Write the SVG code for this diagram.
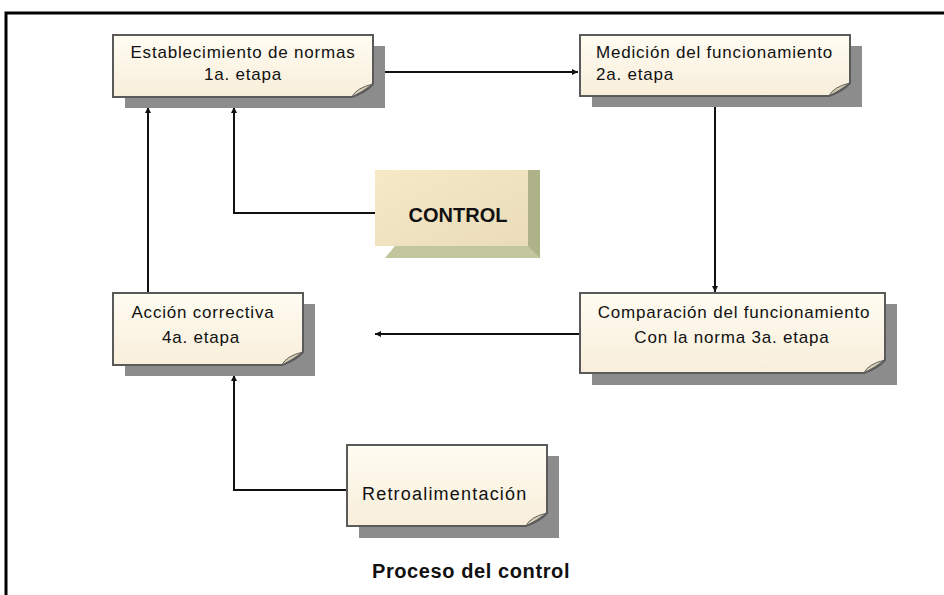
<svg xmlns="http://www.w3.org/2000/svg" width="944" height="595" viewBox="0 0 944 595">
<defs>
<linearGradient id="paper" x1="0" y1="0" x2="0" y2="1">
<stop offset="0" stop-color="#FFFCF2"/>
<stop offset="1" stop-color="#F8EEDA"/>
</linearGradient>
<linearGradient id="face" x1="0" y1="0" x2="1" y2="1">
<stop offset="0" stop-color="#F6E9C8"/>
<stop offset="1" stop-color="#EADCB9"/>
</linearGradient>
<marker id="arr" viewBox="0 0 10 10" refX="10" refY="5" markerWidth="6" markerHeight="6" orient="auto" markerUnits="userSpaceOnUse">
<path d="M0,0 L10,5 L0,10 Z" fill="#111"/>
</marker>
</defs>
<style>
.sh{fill:#8c8c8c}
.bx{fill:url(#paper);stroke:#5a5a5a;stroke-width:2}
.curl{fill:#d9cfb4;stroke:#5a5a5a;stroke-width:1}
.t{font-family:"Liberation Sans",Arial,sans-serif;font-size:17px;letter-spacing:0.8px;fill:#111}
.c{stroke:#111;stroke-width:2;fill:none}
</style>
<rect width="944" height="595" fill="#fff"/>
<path d="M6,595 V13 H944" fill="none" stroke="#000" stroke-width="3"/>

<g id="connectors">
<line class="c" x1="373" y1="72" x2="578" y2="72" marker-end="url(#arr)"/>
<line class="c" x1="715" y1="107" x2="715" y2="292" marker-end="url(#arr)"/>
<line class="c" x1="580" y1="334" x2="375" y2="334" marker-end="url(#arr)"/>
<line class="c" x1="148" y1="293" x2="148" y2="107" marker-end="url(#arr)"/>
<polyline class="c" points="375,213 234,213 234,107" marker-end="url(#arr)"/>
<polyline class="c" points="347,490 234,490 234,375" marker-end="url(#arr)"/>
</g>

<g id="n1">
<rect class="sh" x="125" y="46" width="260" height="62"/>
<path class="bx" d="M113,35 H373 V84 Q366,92 352,97 H113 Z"/>
<path class="curl" d="M352,97 Q356,88 373,84 Q362,92 352,97 Z"/>
<text class="t" x="243" y="58" text-anchor="middle">Establecimiento de normas</text>
<text class="t" x="243" y="80" text-anchor="middle">1a. etapa</text>
</g>

<g id="n2">
<rect class="sh" x="592" y="46" width="270" height="61"/>
<path class="bx" d="M580,35 H850 V83 Q843,91 829,96 H580 Z"/>
<path class="curl" d="M829,96 Q833,87 850,83 Q839,91 829,96 Z"/>
<text class="t" x="596" y="58">Medición del funcionamiento</text>
<text class="t" x="596" y="80">2a. etapa</text>
</g>

<g id="control">
<rect x="375" y="170" width="165" height="88" fill="#BDC198"/>
<polygon points="528,170 540,170 540,258 528,246" fill="#AEB288"/>
<polygon points="385,258 540,258 528,246 395,246" fill="#C2C69D"/>
<rect x="375" y="170" width="153" height="76" fill="url(#face)"/>
<polygon points="375,246 395,246 385,258 375,258" fill="#fff"/>
<text x="458" y="222" text-anchor="middle" font-family="Liberation Sans,Arial,sans-serif" font-size="20" font-weight="bold" fill="#111">CONTROL</text>
</g>

<g id="n4">
<rect class="sh" x="125" y="304" width="190" height="72"/>
<path class="bx" d="M113,293 H303 V352 Q296,360 282,365 H113 Z"/>
<path class="curl" d="M282,365 Q286,356 303,352 Q292,360 282,365 Z"/>
<text class="t" x="203" y="318" text-anchor="middle">Acción correctiva</text>
<text class="t" x="201" y="343" text-anchor="middle">4a. etapa</text>
</g>

<g id="n3">
<rect class="sh" x="592" y="304" width="305" height="81"/>
<path class="bx" d="M580,293 H885 V360 Q878,368 864,373 H580 Z"/>
<path class="curl" d="M864,373 Q868,364 885,360 Q874,368 864,373 Z"/>
<text class="t" x="734" y="318" text-anchor="middle">Comparación del funcionamiento</text>
<text class="t" x="732" y="343" text-anchor="middle">Con la norma 3a. etapa</text>
</g>

<g id="n5">
<rect class="sh" x="359" y="456" width="200" height="82"/>
<path class="bx" d="M347,445 H547 V513 Q540,521 526,526 H347 Z"/>
<path class="curl" d="M526,526 Q530,517 547,513 Q536,521 526,526 Z"/>
<text x="362" y="500" font-family="Liberation Sans,Arial,sans-serif" font-size="18" letter-spacing="1.2" fill="#111">Retroalimentación</text>
</g>

<text x="471" y="578" text-anchor="middle" font-family="Liberation Sans,Arial,sans-serif" font-size="20" font-weight="bold" letter-spacing="0.6" fill="#111">Proceso del control</text>
</svg>
